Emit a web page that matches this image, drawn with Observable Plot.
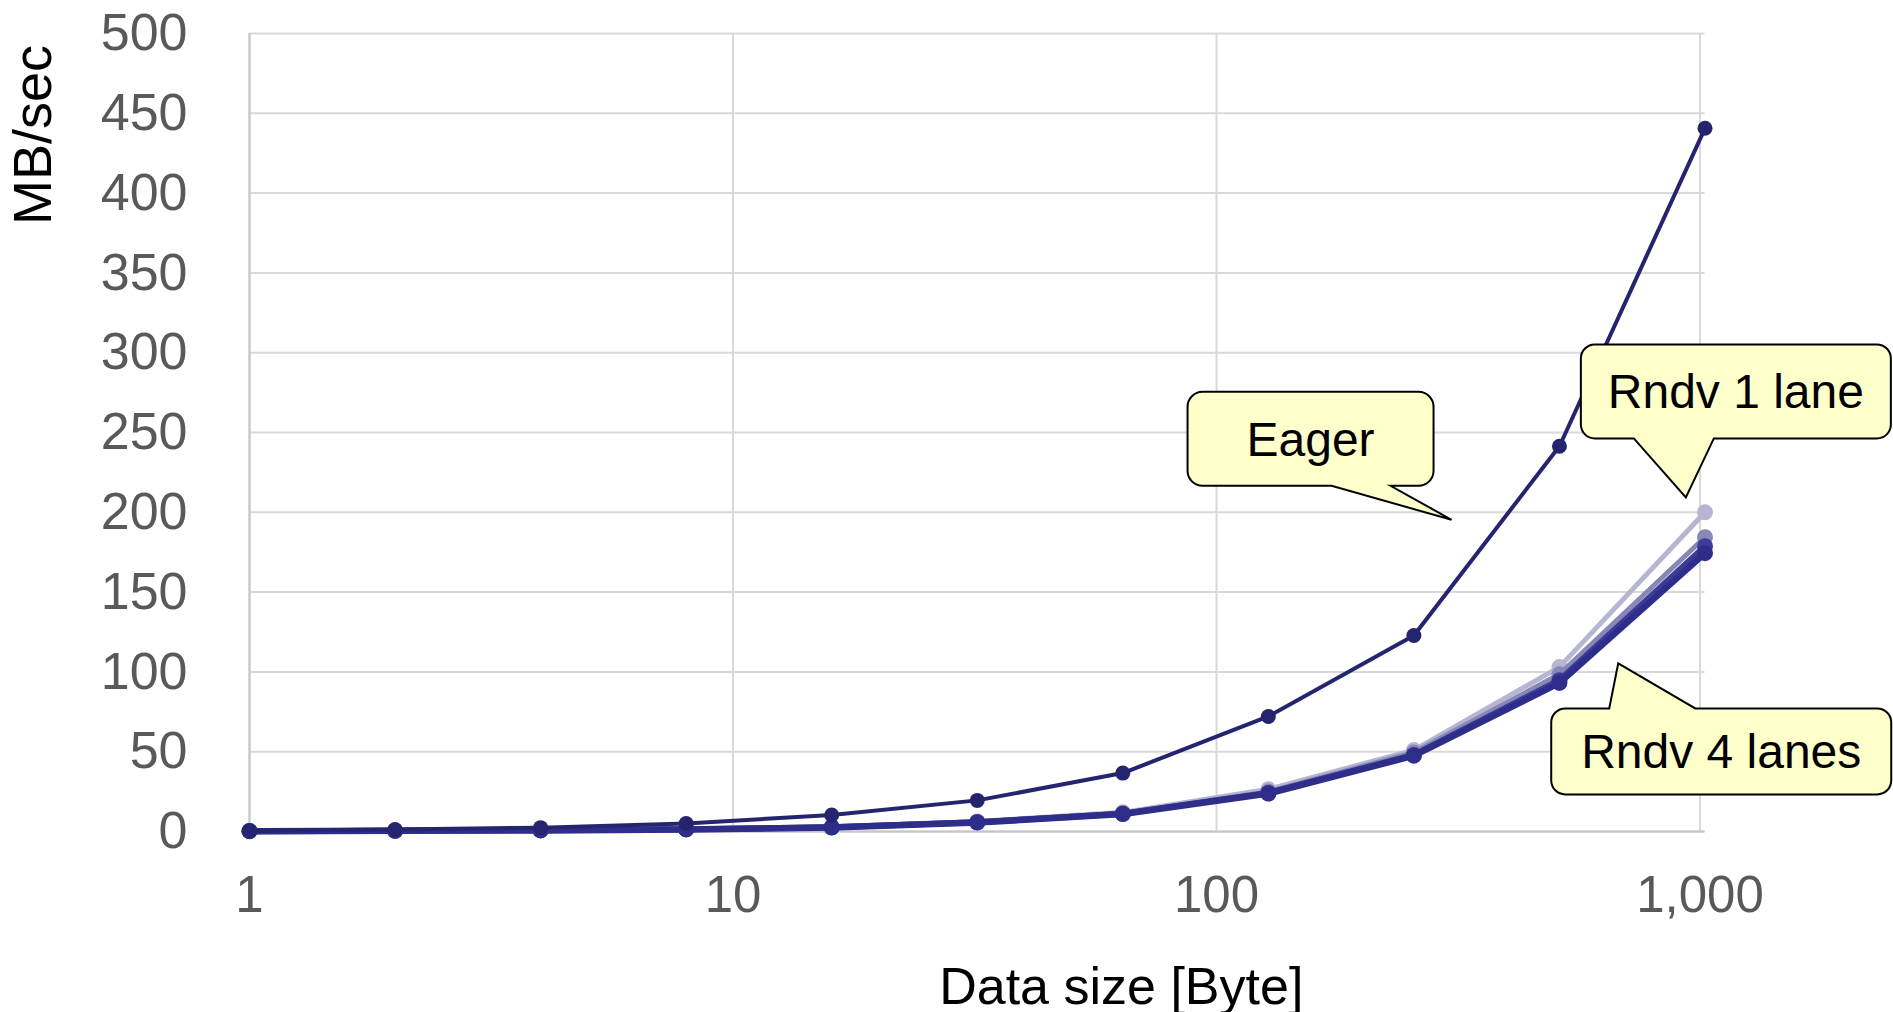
<!DOCTYPE html>
<html>
<head>
<meta charset="utf-8">
<script src="https://cdn.jsdelivr.net/npm/d3@7"></script>
<script src="https://cdn.jsdelivr.net/npm/@observablehq/plot@0.6"></script>
<style>
  html, body { margin: 0; padding: 0; background: #ffffff; }
  #chart svg { display: block; }
</style>
</head>
<body>
<div id="chart"></div>
<script>
// ---- data ----
const sizes = [1, 2, 4, 8, 16, 32, 64, 128, 256, 512, 1024];
const eager = [0.5, 1.2, 2.4, 5.0, 10.3, 19.5, 36.6, 72.1, 122.8, 241.4, 440.6];
const rndv1 = [0.3, 0.5, 0.9, 1.6, 3.0, 6.3, 12.0, 26.5, 51.0, 103.0, 200.0];
const rndv2 = [0.3, 0.5, 0.8, 1.5, 2.8, 6.0, 11.5, 25.0, 49.5, 98.5, 184.4];
const rndv3 = [0.2, 0.4, 0.8, 1.4, 2.6, 5.8, 11.1, 24.2, 48.0, 94.8, 178.8];
const rndv4 = [0.2, 0.4, 0.7, 1.3, 2.5, 5.6, 10.9, 23.8, 47.5, 93.1, 174.4];
const xTicks = [1, 10, 100, 1000];
const yTicks = [0, 50, 100, 150, 200, 250, 300, 350, 400, 450, 500];
const xLabel = "Data size [Byte]";
const yLabel = "MB/sec";
const calloutLabels = ["Eager", "Rndv 1 lane", "Rndv 4 lanes"];
const calloutTipX = [307, 937, 679];
const calloutTipY = [195, 209, 105];

// ---- styles ----
const FONT = "'Liberation Sans', Arial, Helvetica, sans-serif";
const seriesStyle = [
  {values: rndv1, color: "#b6b6d3", width: 5, r: 8},
  {values: rndv2, color: "#8888b8", width: 5, r: 8},
  {values: rndv3, color: "#3c3c98", width: 6, r: 8},
  {values: rndv4, color: "#2e2e8a", width: 6.5, r: 8},
  {values: eager, color: "#25256f", width: 4, r: 7.5}
];
// callout box geometry, in pixels relative to the pointer tip
const calloutGeom = [
  {x0: -264, x1: -18, y0: -128, y1: -34, side: "bottom", a: -120, b: -61, r: 15},
  {x0: -105, x1: 205, y0: -153, y1: -59, side: "bottom", a: -52, b: 28, r: 14},
  {x0: -67, x1: 273, y0: 45, y1: 131, side: "top", a: -9, b: 77, r: 14}
];

const toRows = (vals) => sizes.map((s, i) => ({size: s, v: vals[i]}));

function calloutPath(tx, ty, g) {
  const x0 = tx + g.x0, x1 = tx + g.x1, y0 = ty + g.y0, y1 = ty + g.y1, r = g.r;
  const a = tx + g.a, b = tx + g.b;
  let d = `M${x0 + r},${y0}`;
  if (g.side === "top") d += `L${a},${y0}L${tx},${ty}L${b},${y0}`;
  d += `L${x1 - r},${y0}A${r},${r} 0 0 1 ${x1},${y0 + r}`;
  d += `L${x1},${y1 - r}A${r},${r} 0 0 1 ${x1 - r},${y1}`;
  if (g.side === "bottom") d += `L${b},${y1}L${tx},${ty}L${a},${y1}`;
  d += `L${x0 + r},${y1}A${r},${r} 0 0 1 ${x0},${y1 - r}`;
  d += `L${x0},${y0 + r}A${r},${r} 0 0 1 ${x0 + r},${y0}Z`;
  return d;
}

function calloutMark(index, scales) {
  const g = d3.create("svg:g");
  calloutLabels.forEach((label, i) => {
    const tx = scales.x(calloutTipX[i]);
    const ty = scales.y(calloutTipY[i]);
    const geo = calloutGeom[i];
    g.append("path")
      .attr("d", calloutPath(tx, ty, geo))
      .attr("fill", "#ffffcc")
      .attr("stroke", "#000000")
      .attr("stroke-width", 2)
      .attr("stroke-linejoin", "miter");
    g.append("text")
      .attr("x", tx + (geo.x0 + geo.x1) / 2)
      .attr("y", ty + (geo.y0 + geo.y1) / 2 + 17)
      .attr("text-anchor", "middle")
      .attr("font-family", FONT)
      .attr("font-size", 48)
      .attr("fill", "#000000")
      .text(label);
  });
  return g.node();
}

const marks = [
  Plot.gridY({ticks: yTicks, stroke: "#d9d9d9", strokeOpacity: 1, strokeWidth: 2}),
  Plot.gridX({ticks: xTicks, stroke: "#d9d9d9", strokeOpacity: 1, strokeWidth: 2}),
  Plot.ruleX([1], {stroke: "#c6c6c6", strokeWidth: 2}),
  Plot.ruleY([0], {stroke: "#c6c6c6", strokeWidth: 2})
];
for (const s of seriesStyle) {
  const rows = toRows(s.values);
  marks.push(Plot.line(rows, {x: "size", y: "v", stroke: s.color, strokeWidth: s.width, strokeLinejoin: "round"}));
  marks.push(Plot.dot(rows, {x: "size", y: "v", fill: s.color, r: s.r, stroke: "none"}));
}
marks.push(
  Plot.axisY({ticks: yTicks, tickSize: 0, tickPadding: 62, fontSize: 52, color: "#595959", label: null}),
  Plot.axisX({ticks: xTicks, tickFormat: d3.format(","), tickSize: 0, tickPadding: 44, fontSize: 51, color: "#595959", label: null}),
  calloutMark,
  Plot.text([yLabel], {frameAnchor: "top-left", text: (d) => d, rotate: -90, dx: -216, dy: 101.5,
    textAnchor: "middle", lineAnchor: "middle", fontSize: 54, fill: "#000000"}),
  Plot.text([xLabel], {frameAnchor: "bottom", text: (d) => d, dx: 144, dy: 172,
    textAnchor: "middle", lineAnchor: "bottom", fontSize: 52, fill: "#000000"})
);

const chart = Plot.plot({
  width: 1893,
  height: 1012,
  marginTop: 33,
  marginLeft: 249,
  marginRight: 188.5,
  marginBottom: 181,
  style: {fontFamily: FONT, background: "#ffffff", overflow: "visible"},
  x: {type: "log", domain: [1, 1024]},
  y: {type: "linear", domain: [0, 500]},
  marks
});
document.getElementById("chart").appendChild(chart);
</script>
</body>
</html>
